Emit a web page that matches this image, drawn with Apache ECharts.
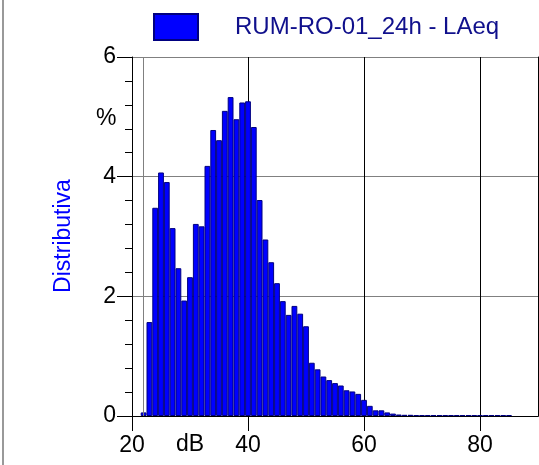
<!DOCTYPE html>
<html>
<head>
<meta charset="utf-8">
<script src="https://cdn.jsdelivr.net/npm/echarts@6/dist/echarts.min.js"></script>
<style>
  html, body { margin: 0; padding: 0; background: #fff; }
  #chart { width: 539px; height: 465px; }
</style>
</head>
<body>
<div id="chart"></div>
<script>
// level classes (dB), one bar per 1 dB
const levels = [22, 23, 24, 25, 26, 27, 28, 29, 30, 31, 32, 33, 34, 35, 36, 37, 38, 39, 40, 41,
  42, 43, 44, 45, 46, 47, 48, 49, 50, 51, 52, 53, 54, 55, 56, 57, 58, 59, 60, 61,
  62, 63, 64, 65, 66, 67, 68, 69, 70, 71, 72, 73, 74, 75, 76, 77, 78, 79, 80, 81,
  82, 83, 84, 85]
// distribution in %
const percent = [0.06, 1.57, 3.48, 4.07, 3.91, 3.14, 2.47, 1.93, 2.32, 3.21, 3.17, 4.18, 4.78, 4.61, 5.10, 5.33, 4.96, 5.24, 5.26, 4.83,
  3.61, 2.95, 2.57, 2.22, 1.92, 1.69, 1.84, 1.71, 1.50, 0.89, 0.78, 0.66, 0.60, 0.55, 0.51, 0.43, 0.41, 0.37, 0.27, 0.17,
  0.095, 0.095, 0.06, 0.04, 0.025, 0.02, 0.02, 0.015, 0.015, 0.015, 0.015, 0.015, 0.015, 0.015, 0.015, 0.015, 0.015, 0.015, 0.015, 0.015,
  0.015, 0.015, 0.015, 0.015]
const xTicks = [20, 40, 60, 80]
const seriesName = 'RUM-RO-01_24h - LAeq'

const font = 'Liberation Sans, Arial, sans-serif'
const chart = echarts.init(document.getElementById('chart'))

chart.setOption({
  backgroundColor: '#fff',
  animation: false,
  legend: {
    data: [seriesName],
    left: 148,
    top: 8,
    icon: 'rect',
    itemWidth: 44,
    itemHeight: 26,
    textStyle: {
      color: '#10108c',
      fontSize: 24,
      fontFamily: font,
      padding: [0, 0, 0, 32]
    }
  },
  grid: { left: 132, right: 1, top: 57, bottom: 49 },
  xAxis: [
    {
      type: 'value',
      min: 20,
      max: 90,
      interval: 20,
      axisLine: { show: true, onZero: false, lineStyle: { color: '#000', width: 1 } },
      axisTick: { show: true, length: 15, customValues: xTicks, lineStyle: { color: '#000' } },
      axisLabel: { customValues: xTicks, margin: 18, color: '#000', fontSize: 23, fontFamily: font },
      splitLine: { show: true, lineStyle: { color: '#000', width: 1 } }
    },
    {
      type: 'value',
      position: 'top',
      min: 20,
      max: 90,
      axisLine: { show: true, lineStyle: { color: '#000' } },
      axisTick: { show: false },
      axisLabel: { show: false },
      splitLine: { show: false }
    }
  ],
  yAxis: [
    {
      type: 'value',
      min: 0,
      max: 6,
      interval: 2,
      axisLine: { show: true, lineStyle: { color: '#000' } },
      axisTick: { show: true, length: 15, lineStyle: { color: '#000' } },
      minorTick: { show: true, splitNumber: 5, length: 7, lineStyle: { color: '#000' } },
      axisLabel: { margin: 16, color: '#000', fontSize: 23, fontFamily: font },
      splitLine: { show: true, lineStyle: { color: '#808080', width: 1 } }
    },
    {
      type: 'value',
      position: 'right',
      min: 0,
      max: 6,
      axisLine: { show: true, lineStyle: { color: '#000' } },
      axisTick: { show: false },
      axisLabel: { show: false },
      splitLine: { show: false }
    }
  ],
  graphic: [
    { type: 'line', shape: { x1: 3, y1: 0, x2: 3, y2: 465 }, style: { stroke: '#999', lineWidth: 2 } },
    {
      type: 'text', left: 96, top: 107,
      style: { text: '%', fill: '#000', font: '23px ' + font }
    },
    {
      type: 'text', left: 176, top: 433,
      style: { text: 'dB', fill: '#000', font: '23px ' + font }
    },
    {
      type: 'text', x: 64, y: 236, rotation: Math.PI / 2,
      style: { text: 'Distributiva', fill: '#0000ff', font: '23px ' + font, align: 'center', verticalAlign: 'middle' }
    }
  ],
  series: [
    {
      name: seriesName,
      type: 'bar',
      barWidth: '100%',
      barGap: '0%',
      data: levels.map((v, i) => [v, percent[i]]),
      itemStyle: { color: '#0000ff', borderColor: '#000080', borderWidth: 1 },
      markLine: {
        silent: true,
        symbol: 'none',
        label: { show: false },
        lineStyle: { color: '#808080', type: 'solid', width: 1 },
        data: [{ xAxis: 22 }]
      }
    }
  ]
})
</script>
</body>
</html>
